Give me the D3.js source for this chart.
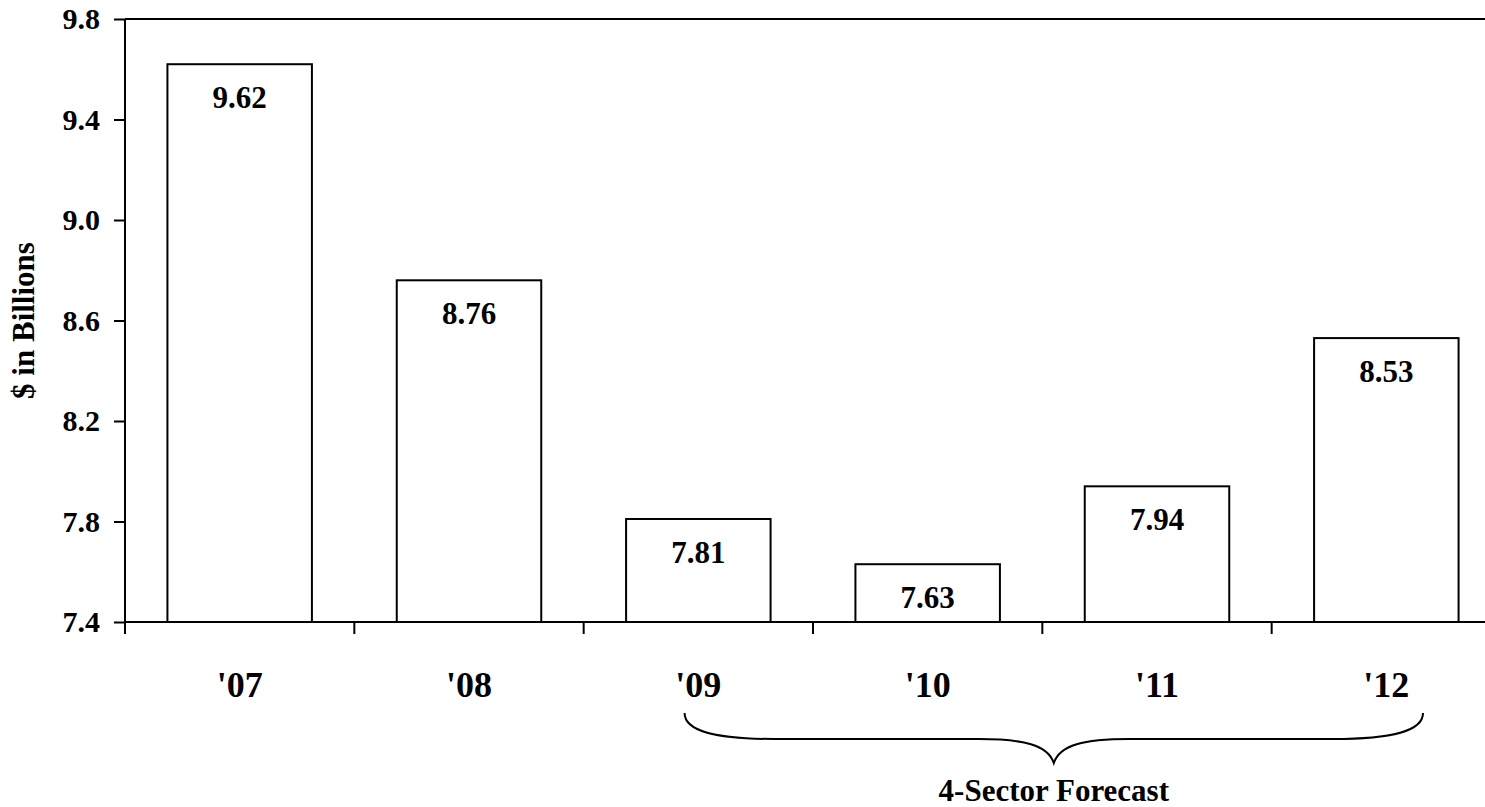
<!DOCTYPE html>
<html>
<head>
<meta charset="utf-8">
<script src="https://cdn.jsdelivr.net/npm/d3@7"></script>
<style>
  body { margin: 0; background: #fff; }
  text { font-family: "Liberation Serif", "Times New Roman", serif; font-weight: bold; fill: #000; }
</style>
</head>
<body>
<svg class="chart"></svg>
<script>
// -------------------- Data --------------------
var years = ["'07", "'08", "'09", "'10", "'11", "'12"];
var values = [9.62, 8.76, 7.81, 7.63, 7.94, 8.53];
var yTicks = [7.4, 7.8, 8.2, 8.6, 9.0, 9.4, 9.8];
var forecastFrom = "'09", forecastTo = "'12";

// -------------------- Settings --------------------
var margin = {top: 19, right: 0, bottom: 185, left: 125}
  , width = 1376
  , height = 603;

var svg = d3.select(".chart")
  .attr("width", 1485)
  .attr("height", 807);

var chart = svg.append("g")
  .attr("transform", "translate(" + margin.left + "," + margin.top + ")");

// -------------------- Scales --------------------
var y = d3.scaleLinear().domain([7.4, 9.8]).range([height, 0]);
var x = d3.scaleBand().domain(years).range([0, width])
  .paddingInner(0.37).paddingOuter(0.185);
var step = x.step();
var bandStart = function(d) { return x(d) - x.paddingOuter() * step; };

// -------------------- Bars --------------------
var data = years.map(function(d, i) { return {name: d, value: values[i]}; });

chart.selectAll("rect.bar").data(data).enter()
  .append("rect")
    .attr("class", "bar")
    .attr("x", function(d) { return x(d.name); })
    .attr("y", function(d) { return y(d.value); })
    .attr("width", x.bandwidth())
    .attr("height", function(d) { return height - y(d.value); })
    .attr("fill", "#fff")
    .attr("stroke", "#000")
    .attr("stroke-width", 2);

chart.selectAll("text.val").data(data).enter()
  .append("text")
    .attr("class", "val")
    .attr("x", function(d) { return x(d.name) + x.bandwidth() / 2; })
    .attr("y", function(d) { return y(d.value) + 44; })
    .attr("text-anchor", "middle")
    .style("font-size", "31px")
    .text(function(d) { return d.value.toFixed(2); });

// -------------------- Axes --------------------
var yAxis = d3.axisLeft(y).tickValues(yTicks).tickSize(11).tickPadding(14)
  .tickFormat(d3.format(".1f"));
var gy = chart.append("g").call(yAxis);
gy.select(".domain").remove();
gy.selectAll("line").attr("stroke", "#000").attr("stroke-width", 2);
gy.selectAll("text").style("font-size", "30px").attr("font-family", null);

chart.append("line")
  .attr("x1", 0).attr("x2", 0).attr("y1", 0).attr("y2", height + 12)
  .attr("stroke", "#000").attr("stroke-width", 2);

// top border and x axis line
chart.append("line")
  .attr("x1", 0).attr("x2", width).attr("y1", 0).attr("y2", 0)
  .attr("stroke", "#000").attr("stroke-width", 2);
chart.append("line")
  .attr("x1", 0).attr("x2", width).attr("y1", height).attr("y2", height)
  .attr("stroke", "#000").attr("stroke-width", 2);

// x ticks at category boundaries
var bounds = years.map(bandStart).concat([width]);
chart.selectAll("line.xt").data(bounds).enter()
  .append("line")
    .attr("class", "xt")
    .attr("x1", function(d) { return d; }).attr("x2", function(d) { return d; })
    .attr("y1", height).attr("y2", height + 12)
    .attr("stroke", "#000").attr("stroke-width", 2);

var xAxis = d3.axisBottom(x).tickSize(0).tickPadding(49);
var gx = chart.append("g").attr("transform", "translate(0," + height + ")").call(xAxis);
gx.select(".domain").remove();
gx.selectAll("text").style("font-size", "36px").attr("font-family", null);

// y title
svg.append("text")
  .attr("transform", "translate(34," + (margin.top + height / 2) + ") rotate(-90)")
  .attr("text-anchor", "middle")
  .style("font-size", "31px")
  .text("$ in Billions");

// -------------------- Forecast brace --------------------
var bL = bandStart(forecastFrom) + step * 0.44
  , bR = bandStart(forecastTo) + step * 0.66
  , bM = (bL + bR) / 2
  , yEnd = height + 91, yMid = height + 117, yTip = height + 141;

var brace = d3.path();
brace.moveTo(bL, yEnd);
brace.bezierCurveTo(bL, yEnd + 18, bL + 30, yMid, bL + 90, yMid);
brace.lineTo(bM - 75, yMid);
brace.bezierCurveTo(bM - 30, yMid, bM - 6, yMid + 6, bM, yTip);
brace.bezierCurveTo(bM + 6, yMid + 6, bM + 30, yMid, bM + 75, yMid);
brace.lineTo(bR - 90, yMid);
brace.bezierCurveTo(bR - 30, yMid, bR, yEnd + 18, bR, yEnd);

chart.append("path")
  .attr("d", brace.toString())
  .attr("fill", "none")
  .attr("stroke", "#000")
  .attr("stroke-width", 2);

chart.append("text")
  .attr("x", bM)
  .attr("y", height + 179)
  .attr("text-anchor", "middle")
  .style("font-size", "31px")
  .text("4-Sector Forecast");
</script>
</body>
</html>
